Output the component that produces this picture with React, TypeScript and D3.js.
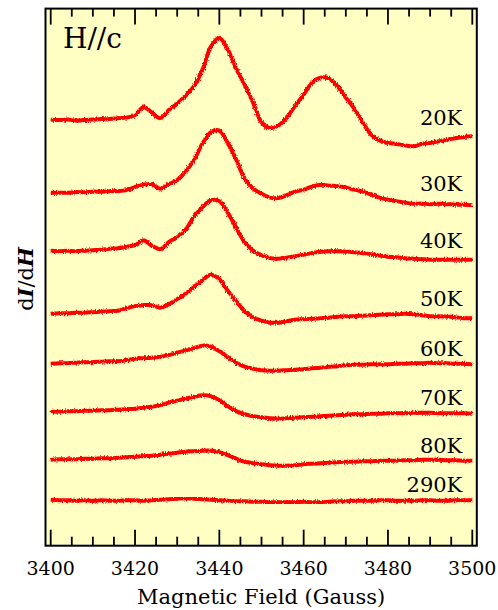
import React, { useEffect, useRef } from 'react';
import * as d3 from 'd3';

// field grid of the spectra, Gauss (every 2 G)
const fields = d3.range(3400, 3501, 2);

const temps = ['20K', '30K', '40K', '50K', '60K', '70K', '80K', '290K'];
// vertical offset of each spectrum (a.u.)
const offsets = [426, 353, 295, 232, 182, 134, 86, 46];

// dI/dH, relative to each offset (a.u.)
const s20K = [0, -0.5, 0, -1, -0.5, 0, 0.5, 0.5, 1.5, 2, 4.5, 12.5, 7, 1.5, 9.5, 16, 24, 33.5, 50, 73, 81.5, 70, 51, 35, 17, -2.5, -8.5, -6, 2, 14, 25, 37, 42, 41, 33.5, 22, 11, -2.7, -15, -20.7, -23.3, -24.3, -25.7, -26.7, -24.3, -23.3, -21.7, -20, -18.7, -17.3, -16.7];
const s30K = [0, 0, 0, 0.5, 0.5, 1, 1, 1.5, 1.5, 2.5, 5.5, 8, 8.5, 4, 8.5, 12.5, 21, 33, 49, 60.5, 62, 49.5, 33, 14, 4, -1, -5, -5.5, -2.5, 1, 3, 6, 8, 7, 6.5, 5, 3, 1, -2, -5, -7, -8.5, -10, -11, -11, -11.5, -11, -11.5, -12, -12, -12.5];
const s40K = [0, -0.5, 0, -0.5, 0, 0.5, 1, 2, 2.5, 4, 5.5, 10.5, 5, 1.5, 8.5, 14, 21, 34, 43.5, 50.5, 49.5, 38, 23, 8.5, 0, -4.5, -7.5, -8, -7, -5.5, -4, -2.5, -1, -0.5, -0.5, -1, -1.5, -2.5, -3.5, -5, -6, -6.5, -7.5, -8, -8.5, -9, -9, -9, -9, -9, -9];
const s50K = [0, 0.5, 0.5, 1, 1, 1.5, 2, 2.5, 3, 5.5, 7.5, 8.5, 8.5, 6, 9.5, 14.5, 20, 26.5, 33.5, 39, 34.5, 23, 12.5, 2.5, -3.5, -7, -9, -9, -7.5, -6, -5.5, -5, -4.5, -4, -3, -2.5, -2.5, -2, -1.5, -1, -0.5, -0.5, 0, -0.5, -1.5, -2.5, -2.5, -3, -3.5, -4.5, -4.5];
const s60K = [0, 0.5, 0.5, 1, 1.5, 1.5, 2, 2.5, 2.5, 3.5, 5, 5.5, 6, 7, 8.5, 11, 13, 15.5, 18, 17, 12.5, 6.5, 1, -3, -5, -6.5, -7, -7, -6.5, -6, -5.5, -4.5, -4, -3, -2.5, -1.5, -1, -1, -0.5, -0.5, -0.5, 0, 0, 0.5, 0.5, 1, 0.5, 0.5, 0, 0, -0.5];
const s70K = [0, 0, 0.5, 0.5, 1, 1, 1.5, 1.5, 2, 2.5, 3, 4, 5, 6.5, 9, 11, 13, 15, 16.5, 15.5, 11.5, 5.5, 0.5, -2.5, -4.5, -5.5, -6.5, -7, -6.5, -6, -5.5, -5, -4.5, -4, -3.5, -3, -2.5, -2.5, -2, -2, -1.5, -1.5, -1.5, -1, -1, -1, -1.5, -1.5, -1.5, -1.5, -2];
const s80K = [0, 0.5, 0.5, 0.5, 1, 1, 1.5, 1.5, 2, 2.5, 3, 3.5, 4, 5, 6, 7, 8, 8.5, 9, 9, 7.5, 4.5, 1, -2, -3.5, -4.5, -5.5, -6, -6, -5.5, -4.5, -4, -3.5, -3, -2.5, -2, -2, -1.5, -1.5, -1, -1, -1, -0.5, -0.5, 0, 0, 0, -0.5, -0.5, -1, -1];
const s290K = [0, -0.5, -0.5, -1, -0.5, -1, -0.5, -1, -1, -0.5, -0.5, -1, -0.5, 0, 0.5, 1, 1.5, 1, 0.5, 0, -0.5, -1, -1.5, -1.5, -2, -2, -2.5, -2.5, -2.5, -2.5, -2, -2.5, -2.5, -2, -1.5, -1.5, -1, -1, -1, -0.5, -0.5, -1, -1, -1, -0.5, -0.5, -1, -1, -0.5, -0.5, -0.5];

const spectra = [s20K, s30K, s40K, s50K, s60K, s70K, s80K, s290K];

const majorTicks = [3400, 3420, 3440, 3460, 3480, 3500];
const minorTicks = d3.range(3400, 3501, 5);

const font = "'DejaVu Serif', 'Liberation Serif', serif";

const App = () => {
  const svgRef = useRef<SVGSVGElement>(null);

  useEffect(() => {
    const W = 498, H = 610;
    const frame = { left: 45.5, right: 476.8, top: 8.6, bottom: 545.7 };

    const svg = d3.select(svgRef.current).attr('width', W).attr('height', H);
    svg.selectAll('*').remove();

    const x = d3.scaleLinear().domain([3400, 3500]).range([50.7, 472.3]);
    const y = d3.scaleLinear().domain([0, 537]).range([frame.bottom, frame.top]);

    // plot background
    svg.append('rect')
      .attr('x', frame.left).attr('y', frame.top)
      .attr('width', frame.right - frame.left).attr('height', frame.bottom - frame.top)
      .attr('fill', '#FFFFC4');

    // roughness so the traces look like measured data
    const defs = svg.append('defs');
    const f = defs.append('filter').attr('id', 'rough')
      .attr('x', '-5%').attr('y', '-20%').attr('width', '110%').attr('height', '140%');
    f.append('feTurbulence').attr('type', 'fractalNoise').attr('baseFrequency', '1.1 0.45')
      .attr('numOctaves', 2).attr('seed', 7).attr('result', 'n');
    f.append('feDisplacementMap').attr('in', 'SourceGraphic').attr('in2', 'n')
      .attr('scale', 3.4).attr('xChannelSelector', 'R').attr('yChannelSelector', 'G');

    const line = d3.line<number>()
      .x((_, i) => x(fields[i]))
      .curve(d3.curveCatmullRom.alpha(0.5));

    const labelLift = [11, 14, 12, 12, 8, 8.5, 8, 8];

    spectra.forEach((s, k) => {
      line.y(d => y(offsets[k] + d));
      svg.append('path')
        .attr('d', line(s))
        .attr('fill', 'none')
        .attr('stroke', '#FF0000')
        .attr('stroke-width', 4)
        .attr('stroke-linejoin', 'round')
        .attr('filter', 'url(#rough)');

      svg.append('text')
        .attr('x', x(3500) - 10)
        .attr('y', y(offsets[k] + s[s.length - 1]) - labelLift[k])
        .attr('text-anchor', 'end')
        .style('font-family', font)
        .style('font-size', '21px')
        .text(temps[k]);
    });

    // ticks on top and bottom, pointing inward
    const ticks = svg.append('g').attr('stroke', '#000').attr('stroke-width', 1.8);
    minorTicks.forEach(t => {
      const major = majorTicks.includes(t);
      ticks.append('line')
        .attr('x1', x(t)).attr('x2', x(t))
        .attr('y1', frame.top).attr('y2', frame.top + (major ? 16 : 8));
      ticks.append('line')
        .attr('x1', x(t)).attr('x2', x(t))
        .attr('y1', frame.bottom).attr('y2', frame.bottom - (major ? 16 : 9));
    });

    svg.append('rect')
      .attr('x', frame.left).attr('y', frame.top)
      .attr('width', frame.right - frame.left).attr('height', frame.bottom - frame.top)
      .attr('fill', 'none').attr('stroke', '#000').attr('stroke-width', 2);

    svg.selectAll('.xl')
      .data(majorTicks)
      .enter()
      .append('text')
      .attr('x', d => x(d))
      .attr('y', 575)
      .attr('text-anchor', 'middle')
      .style('font-family', font)
      .style('font-size', '19px')
      .text(d => d);

    svg.append('text')
      .attr('x', (frame.left + frame.right) / 2)
      .attr('y', 604)
      .attr('text-anchor', 'middle')
      .style('font-family', font)
      .style('font-size', '21px')
      .text('Magnetic Field (Gauss)');

    const yl = svg.append('text')
      .attr('transform', 'translate(33,279) rotate(-90)')
      .attr('text-anchor', 'middle')
      .style('font-family', font)
      .style('font-size', '21px');
    yl.append('tspan').text('d');
    yl.append('tspan').style('font-style', 'italic').style('font-weight', 'bold').text('I');
    yl.append('tspan').text('/d');
    yl.append('tspan').style('font-style', 'italic').style('font-weight', 'bold').text('H');

    svg.append('text')
      .attr('x', 63)
      .attr('y', 48)
      .style('font-family', font)
      .style('font-size', '28px')
      .text('H//c');
  }, []);

  return (
    <svg ref={svgRef} style={{ position: 'absolute', left: 0, top: 0, display: 'block' }}></svg>
  );
};

export default App;
